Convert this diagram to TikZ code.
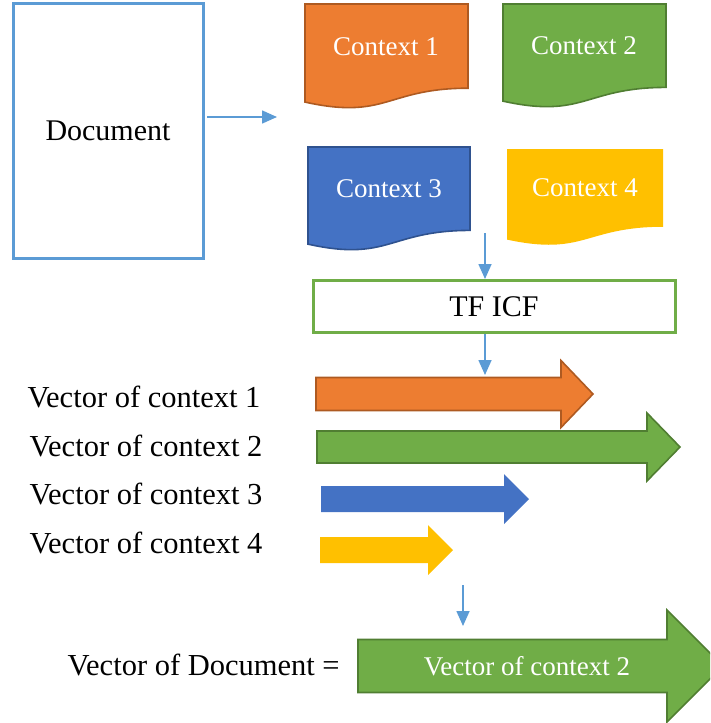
\documentclass[tikz,border=0pt]{standalone}
\usepackage{fontspec}
\setmainfont{Liberation Serif}
\usetikzlibrary{arrows.meta}

\definecolor{docblue}{HTML}{5B9BD5}
\definecolor{ctxorange}{HTML}{ED7D31}
\definecolor{ctxorangedark}{HTML}{AE5A21}
\definecolor{ctxgreen}{HTML}{70AD47}
\definecolor{ctxgreendark}{HTML}{507E32}
\definecolor{ctxblue}{HTML}{4472C4}
\definecolor{ctxbluedark}{HTML}{2F528F}
\definecolor{ctxyellow}{HTML}{FFC000}

% wavy document shape: left, right, top, height
\newcommand{\ctxshape}[4]{(#1,#3) -- (#2,#3) -- (#2,{#3+0.802*#4})
  .. controls ({(#1+#2)/2},{#3+0.802*#4}) and ({(#1+#2)/2},{#3+1.107*#4}) .. (#1,{#3+0.934*#4}) -- cycle}
% block arrow: left, centre y, half shaft, head start, half head, tip
\newcommand{\vecshape}[6]{(#1,{#2-#3}) -- (#4,{#2-#3}) -- (#4,{#2-#5}) -- (#6,#2)
  -- (#4,{#2+#5}) -- (#4,{#2+#3}) -- (#1,{#2+#3}) -- cycle}

\begin{document}
\begin{tikzpicture}[x=1pt, y=-1pt,
    flow/.style={draw=docblue, line width=1.6pt, -{Triangle[length=15pt, width=13pt]}},
    ctxtext/.style={text=white, font=\fontsize{27}{31}\selectfont},
    vectext/.style={anchor=west, font=\fontsize{30.5}{34}\selectfont}]
  \clip (0,0) rectangle (710,723);

  % document
  \node[draw=docblue, line width=3pt, minimum width=190pt, minimum height=255pt,
        font=\fontsize{30}{34}\selectfont] (doc) at (108,130.5) {Document};
  \coordinate (docout) at (207,117);
  \coordinate (ctxin) at (277,117);
  \draw[flow] (docout) -- (ctxin);

  % contexts
  \filldraw[fill=ctxorange, draw=ctxorangedark, line width=1.6pt] \ctxshape{305}{468}{4}{105};
  \filldraw[fill=ctxgreen, draw=ctxgreendark, line width=1.6pt] \ctxshape{503}{666}{4}{104};
  \filldraw[fill=ctxblue, draw=ctxbluedark, line width=1.6pt] \ctxshape{308}{470}{147}{104};
  \fill[ctxyellow] \ctxshape{507}{663}{149}{97};
  \node[ctxtext] (ctx1) at (386,47) {Context 1};
  \node[ctxtext] (ctx2) at (584,46) {Context 2};
  \node[ctxtext] (ctx3) at (389,189) {Context 3};
  \node[ctxtext] (ctx4) at (585,188) {Context 4};

  % tf icf
  \coordinate (ctxout) at (485,233);
  \node[draw=ctxgreen, line width=3pt, minimum width=362pt, minimum height=52pt,
        font=\fontsize{30}{34}\selectfont] (tficf) at (494,306.5) {TF ICF};
  \draw[flow] (ctxout) -- (ctxout |- tficf.north);

  % vectors
  \filldraw[fill=ctxorange, draw=ctxorangedark, line width=1.6pt] \vecshape{316}{394}{16.5}{561}{33.5}{593};
  \filldraw[fill=ctxgreen, draw=ctxgreendark, line width=1.6pt] \vecshape{317}{447}{16}{647}{34}{680};
  \fill[ctxblue] \vecshape{321}{499}{13}{504}{25}{529};
  \fill[ctxyellow] \vecshape{320}{550}{13}{428}{25}{453};
  \coordinate (vec1) at (485,375);
  \draw[flow] (tficf.south -| vec1) -- (vec1);

  \node[vectext] (lab1) at (24,397) {Vector of context 1};
  \node[vectext] (lab2) at (26,446) {Vector of context 2};
  \node[vectext] (lab3) at (26,494) {Vector of context 3};
  \node[vectext] (lab4) at (26,543) {Vector of context 4};

  % result
  \coordinate (resin) at (463,585);
  \coordinate (resout) at (463,626);
  \draw[flow] (resin) -- (resout);
  \filldraw[fill=ctxgreen, draw=ctxgreendark, line width=1.6pt] \vecshape{358}{666}{26.5}{667}{56}{723};
  \node[ctxtext] (res) at (527,666) {Vector of context 2};
  \node[vectext] (reslab) at (64,665) {Vector of Document =};
\end{tikzpicture}
\end{document}
